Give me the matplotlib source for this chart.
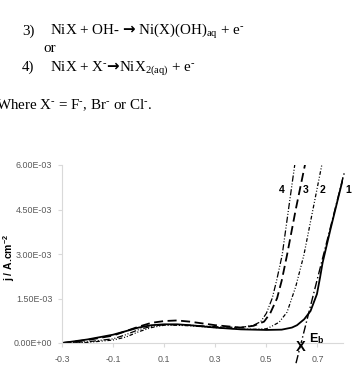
import matplotlib
matplotlib.use("Agg")
import matplotlib.pyplot as plt

plt.rcParams['mathtext.fontset'] = 'custom'
plt.rcParams['mathtext.rm'] = 'Liberation Serif'
plt.rcParams['mathtext.it'] = 'Liberation Serif:italic'
plt.rcParams['mathtext.bf'] = 'DejaVu Sans:bold'
plt.rcParams['mathtext.sf'] = 'Liberation Sans:bold'

# ---- data (potential in V, current density in A/cm2) ----
x1 = [-0.3, -0.2, -0.1, -0.05, 0.0, 0.05, 0.1, 0.15, 0.2, 0.3, 0.4, 0.5, 0.56, 0.6, 0.62, 0.648, 0.673, 0.698, 0.71, 0.72, 0.75, 0.78, 0.8]
y1 = [0.0, 0.12e-3, 0.28e-3, 0.40e-3, 0.52e-3, 0.60e-3, 0.63e-3, 0.63e-3, 0.60e-3, 0.52e-3, 0.46e-3, 0.44e-3, 0.45e-3, 0.52e-3, 0.60e-3, 0.80e-3, 1.08e-3, 1.65e-3, 2.2e-3, 2.70e-3, 3.80e-3, 4.85e-3, 5.55e-3]

x2 = [-0.3, -0.2, -0.1, -0.05, 0.0, 0.05, 0.1, 0.15, 0.2, 0.3, 0.4, 0.45, 0.5, 0.518, 0.55, 0.581, 0.615, 0.647, 0.68, 0.717, 0.74]
y2 = [0.0, 0.02e-3, 0.10e-3, 0.20e-3, 0.38e-3, 0.52e-3, 0.60e-3, 0.60e-3, 0.58e-3, 0.52e-3, 0.47e-3, 0.46e-3, 0.48e-3, 0.55e-3, 0.70e-3, 1.04e-3, 1.90e-3, 2.97e-3, 4.40e-3, 6.00e-3, 7.00e-3]

x3 = [-0.3, -0.2, -0.1, -0.05, 0.0, 0.05, 0.1, 0.15, 0.2, 0.3, 0.4, 0.45, 0.491, 0.515, 0.542, 0.56, 0.581, 0.615, 0.651, 0.67]
y3 = [0.0, 0.10e-3, 0.25e-3, 0.40e-3, 0.55e-3, 0.68e-3, 0.74e-3, 0.76e-3, 0.72e-3, 0.60e-3, 0.52e-3, 0.58e-3, 0.72e-3, 1.00e-3, 1.51e-3, 2.10e-3, 2.97e-3, 4.50e-3, 6.00e-3, 6.90e-3]

x4 = [-0.3, -0.2, -0.1, -0.05, 0.0, 0.05, 0.1, 0.2, 0.3, 0.4, 0.45, 0.478, 0.5, 0.523, 0.54, 0.562, 0.585, 0.611, 0.63]
y4 = [0.0, 0.04e-3, 0.14e-3, 0.28e-3, 0.45e-3, 0.56e-3, 0.62e-3, 0.60e-3, 0.55e-3, 0.52e-3, 0.60e-3, 0.72e-3, 1.00e-3, 1.51e-3, 2.10e-3, 2.97e-3, 4.40e-3, 6.00e-3, 7.10e-3]

eb_x = [0.616, 0.806]
eb_y = [-0.68e-3, 5.77e-3]
eb_point = (0.636, 0.0)

xticks = [-0.3, -0.1, 0.1, 0.3, 0.5, 0.7]
xticklabels = ['-0.3', '-0.1', '0.1', '0.3', '0.5', '0.7']
yticks = [0.0, 1.5e-3, 3.0e-3, 4.5e-3, 6.0e-3]
yticklabels = ['0.00E+00', '1.50E-03', '3.00E-03', '4.50E-03', '6.00E-03']
curve_labels = ['4', '3', '2', '1']
curve_label_x = [0.562, 0.655, 0.721, 0.819]

W, H = 354, 372
fig = plt.figure(figsize=(W / 100, H / 100), dpi=100)

# ---- text above the chart ----
serif = 'Liberation Serif'
fs = 10.8
HY = '\u2010'   # short hyphen used as superscript minus
ARR = '$\\mathbf{\u2192}$'
SUP = '$^{' + HY + '}$'
fig.text(22 / W, 1 - 35 / H, '3)', family=serif, fontsize=fs, va='baseline')
fig.text(50 / W, 1 - 35 / H, 'NiX + OH- ' + ARR + ' Ni(X)(OH)$_{\\mathrm{aq}}$ + e' + SUP,
         family=serif, fontsize=fs, va='baseline')
fig.text(43 / W, 1 - 52 / H, 'or', family=serif, fontsize=fs, va='baseline')
fig.text(22 / W, 1 - 71 / H, '4)', family=serif, fontsize=fs, va='baseline')
fig.text(50 / W, 1 - 71 / H, 'NiX + X' + SUP + ARR + 'NiX$_{\\mathrm{2(aq)}}$ + e' + SUP,
         family=serif, fontsize=fs, va='baseline')
fig.text(-4 / W, 1 - 109 / H,
         'Where X' + SUP + ' = F' + SUP + ', Br' + SUP + ' or Cl' + SUP + '.',
         family=serif, fontsize=fs, va='baseline')

# ---- chart ----
ax = fig.add_axes([62 / W, 1 - 343 / H, (343 - 62) / W, (343 - 165) / H])
ax.set_xlim(-0.3, 0.8)
ax.set_ylim(0, 6.0e-3)

ax.plot(x1, y1, color='black', lw=1.3, ls='-')
ax.plot(x2, y2, color='black', lw=0.9, ls=(0, (3, 1.5, 0.8, 1.5, 0.8, 1.5)))
ax.plot(x3, y3, color='black', lw=1.3, ls=(0, (5, 2.5)))
ax.plot(x4, y4, color='black', lw=0.9, ls=(0, (5, 1.5, 0.8, 1.5, 0.8, 1.5)))
ax.plot(eb_x, eb_y, color='black', lw=1.0, ls=(0, (6, 2, 1, 2)), clip_on=False)

gray = '#d9d9d9'
for s in ['top', 'right']:
    ax.spines[s].set_visible(False)
ax.spines['left'].set_color(gray)
ax.spines['bottom'].set_color(gray)
ax.spines['left'].set_linewidth(0.8)
ax.spines['bottom'].set_linewidth(0.8)

sans = 'Liberation Sans'
ax.set_xticks(xticks)
ax.set_xticklabels(xticklabels, family=sans, fontsize=6.4, color='#595959')
ax.set_yticks(yticks)
ax.set_yticklabels(yticklabels, family=sans, fontsize=6.4, color='#595959')
ax.tick_params(axis='x', length=3, color=gray, pad=5.5)
ax.tick_params(axis='y', length=3, color=gray, pad=4)

fig.text(9 / W, 1 - 257 / H, 'j / A.cm$^{\\mathsf{-2}}$', family=sans, fontsize=7.5,
         fontweight='bold', rotation=90, ha='center', va='center')

for lab, lx in zip(curve_labels, curve_label_x):
    ax.text(lx, 5.16e-3, lab, family=sans, fontsize=7.5, fontweight='bold',
            ha='center', va='center', clip_on=False)

ax.text(eb_point[0], eb_point[1] - 0.13e-3, 'X', family=sans, fontsize=10.5, fontweight='bold',
        ha='center', va='center', clip_on=False)
ax.text(0.667, 0.15e-3, 'E$_{\\mathsf{b}}$', family=sans, fontsize=9, fontweight='bold',
        ha='left', va='center', clip_on=False)

fig.savefig('out.png', dpi=100)
